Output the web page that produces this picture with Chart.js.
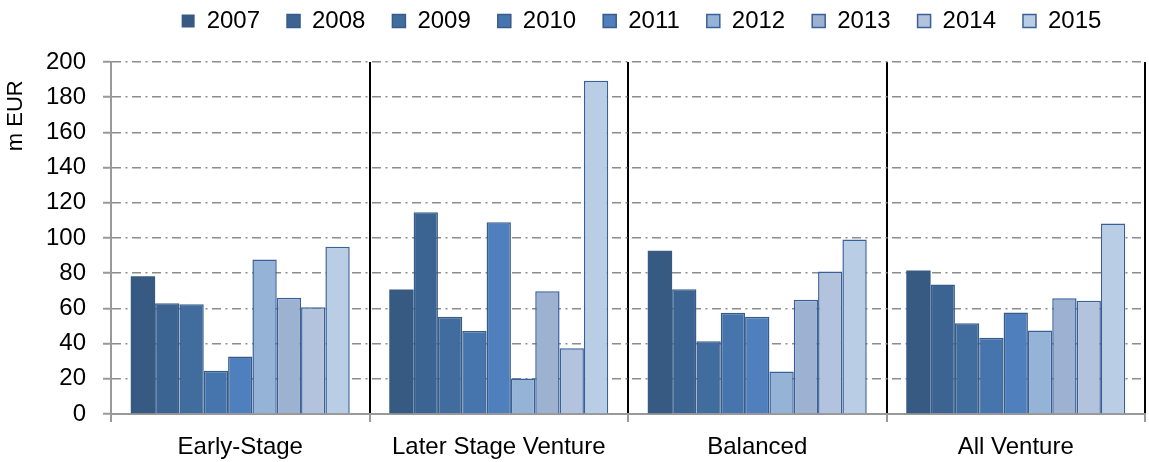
<!DOCTYPE html>
<html>
<head>
<meta charset="utf-8">
<script src="https://cdn.jsdelivr.net/npm/chart.js@4.4.1/dist/chart.umd.min.js"></script>
<style>
	html, body { margin: 0; padding: 0; background: #fff; }
</style>
</head>
<body>
<canvas id="fundChart" width="1149" height="462"></canvas>
<script>
// categories and year series (m EUR)
const categories = ['Early-Stage', 'Later Stage Venture', 'Balanced', 'All Venture'];
const years = ['2007', '2008', '2009', '2010', '2011', '2012', '2013', '2014', '2015'];

const v2007 = [78.3, 70.7, 92.8, 81.6];
const v2008 = [62.9, 114.7, 70.9, 73.6];
const v2009 = [62.4, 55.2, 41.3, 51.6];
const v2010 = [24.6, 47.2, 57.5, 43.3];
const v2011 = [32.6, 109.0, 55.2, 57.7];
const v2012 = [87.8, 20.1, 24.1, 47.4];
const v2013 = [66.0, 69.8, 64.9, 65.8];
const v2014 = [60.7, 37.3, 81.0, 64.3];
const v2015 = [95.0, 189.3, 99.2, 108.3];

const yTicks = [0, 20, 40, 60, 80, 100, 120, 140, 160, 180, 200];

// colours per year
const fills   = ['#375A82', '#3B6493', '#416C9E', '#4675AE', '#4F80BD', '#94B3D7', '#9DB1D1', '#B4C3DD', '#B9CDE4'];
const borders = ['#375A82', '#375C8A', '#375C8A', '#375C8A', '#375C8A', '#3A609A', '#3A609A', '#3A609A', '#3A609A'];

const seriesValues = [v2007, v2008, v2009, v2010, v2011, v2012, v2013, v2014, v2015];

const FONT = 'Liberation Sans, Arial, sans-serif';

// legend sits off-centre in the original, move it a bit
const legendShift = {
	id: 'legendShift',
	afterLayout: function(chart) {
		let lg = chart.legend;
		lg.left += 69; lg.right += 69;
		lg.top -= 19; lg.bottom -= 19;
	}
};

new Chart(document.getElementById('fundChart'), {
	type: 'bar',
	data: {
		labels: categories,
		datasets: years.map(function(y, i) {
			return {
				label: y,
				data: seriesValues[i],
				backgroundColor: fills[i],
				borderColor: borders[i],
				borderWidth: i === 0 ? 0 : 1.5,
				categoryPercentage: 0.847,
				barPercentage: 1
			};
		})
	},
	options: {
		responsive: false,
		animation: false,
		layout: { padding: { top: 1, right: 4, left: 0, bottom: 0 } },
		plugins: {
			legend: {
				position: 'top',
				labels: {
					boxWidth: 13,
					boxHeight: 13,
					padding: 27,
					color: '#000',
					font: { family: FONT, size: 24 }
				}
			},
			tooltip: { enabled: false }
		},
		scales: {
			x: {
				grid: {
					offset: true,
					color: function(ctx) { return ctx.index === 0 ? 'rgba(0,0,0,0)' : '#000'; },
					lineWidth: 2,
					tickLength: 8,
					tickColor: '#999',
					tickWidth: 2
				},
				border: { color: '#999', width: 2 },
				ticks: { color: '#000', font: { family: FONT, size: 24 }, padding: 11 },
				afterFit: function(scale) { scale.height = 48; }
			},
			y: {
				min: 0,
				max: 200,
				afterBuildTicks: function(scale) {
					scale.ticks = yTicks.map(function(v) { return { value: v }; });
				},
				grid: {
					color: '#8c8c8c',
					lineWidth: 1.5,
					tickLength: 8,
					tickColor: '#999',
					tickWidth: 2
				},
				border: { color: '#999', width: 2, dash: [9, 4.5, 2, 4.5] },
				ticks: { color: '#000', font: { family: FONT, size: 24 }, padding: 17 },
				title: {
					display: true,
					// trailing spaces keep the label a little below the top, as in the original
					text: 'm EUR   ',
					align: 'end',
					color: '#000',
					font: { family: FONT, size: 22 },
					padding: { top: 3, bottom: 0 }
				},
				afterFit: function(scale) { scale.width = 111; }
			}
		}
	},
	plugins: [legendShift]
});
</script>
</body>
</html>
